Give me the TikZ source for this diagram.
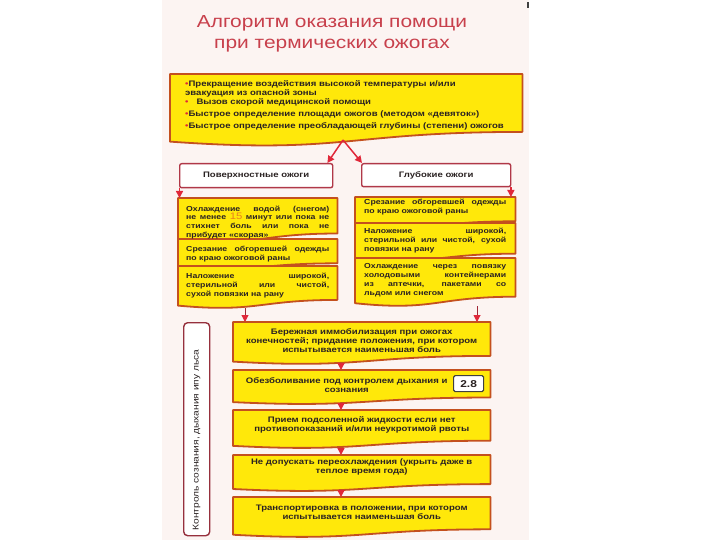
\documentclass[tikz,border=0pt]{standalone}
\usepackage{fontspec}
\setmainfont[FakeStretch=1.2]{Liberation Sans}
\usetikzlibrary{calc,arrows.meta,backgrounds}
\definecolor{panel}{HTML}{FCF4F2}
\definecolor{ybox}{HTML}{FFE80A}
\definecolor{yborder}{HTML}{C4501E}
\definecolor{rline}{HTML}{E0283A}
\definecolor{dline}{HTML}{A02838}
\definecolor{hborder}{HTML}{B03848}
\definecolor{titlec}{HTML}{C8404C}
\definecolor{txt}{HTML}{2A2222}
\definecolor{num}{HTML}{E8801E}
\tikzset{
  dframe/.style={draw=none, inner sep=0pt, anchor=north west},
  dfill/.style={fill=ybox, draw=yborder, line width=1.8bp, line join=round},
  dtext/.style={inner sep=0pt, text=txt, font=\bfseries\fontsize{8}{9}\selectfont},
  ctext/.style={align=justify, font=\bfseries\fontsize{7.3}{9}\selectfont},
  hbox/.style={draw=hborder, fill=white, line width=1.4bp, rounded corners=2bp, anchor=north west, inner sep=0pt, font=\bfseries\fontsize{8}{9}\selectfont, text=txt},
  arr/.style={draw=rline, line width=1.5bp, -{Triangle[length=7bp,width=7bp]}},
  arrd/.style={draw=dline, line width=1bp, -{Triangle[length=7bp,width=7bp,color=rline]}},
  titlestyle/.style={text=titlec, font=\fontsize{17.5}{21}\selectfont, align=center, inner sep=0pt},
}
\newcommand\docpath[1]{%
  \path[dfill] let \p1=(#1.north west), \p2=(#1.south east), \n1={\y1-\y2} in
   (\x1,\y1) -- (\x2,\y1) -- (\x2,{\y2+0.2*\n1})
   .. controls ({0.5*\x1+0.5*\x2},{\y2+0.2*\n1}) and ({0.5*\x1+0.5*\x2},{\y2-0.107*\n1}) ..
   (\x1,{\y2+0.066*\n1}) -- cycle;}
% name, x, y, w, h, text centre y, text options, text
\newcommand\dbox[8]{%
  \node[dframe, minimum width=#4bp, minimum height=#5bp] (#1) at (#2,#3) {};
  \begin{scope}[on background layer]\docpath{#1}\end{scope}
  \node[dtext, #7] (#1t) at (#1.north |- 0,#6) {#8};}
\newcommand\rb{\textcolor{rline}{•}}
\begin{document}
\hyphenpenalty=10000
\tolerance=9999
\begin{tikzpicture}[x=1bp,y=-1bp]
\useasboundingbox (0,0) rectangle (720,540);
\begin{scope}[on background layer]
  \fill[panel] (162,0) rectangle (529,540);
\end{scope}
\fill[black!75] (527,2) rectangle (529,8);

\node[titlestyle] (title) at (332,33.5) {Алгоритм оказания помощи\\при термических ожогах};

% top box
\dbox{T}{170}{74}{352}{72}{105.5}{align=left, text width=322bp}{%
\rb Прекращение воздействия высокой температуры и/или\\[-0.5bp]
эвакуация из опасной зоны\\[0.5bp]
\rb\quad Вызов скорой медицинской помощи\\[3bp]
\rb Быстрое определение площади ожогов (методом «девяток»)\\[3bp]
\rb Быстрое определение преобладающей глубины (степени) ожогов}

% headers
\node[hbox, minimum width=153bp, minimum height=24bp] (H1) at (179,163) {Поверхностные ожоги};
\node[hbox, minimum width=149bp, minimum height=23bp] (H2) at (361,163) {Глубокие ожоги};

% left column
\dbox{L1}{178}{198}{159}{44}{222.5}{ctext, text width=143bp}{%
Охлаждение водой (снегом)\linebreak не менее {\mdseries\fontsize{9.5}{9}\selectfont\textcolor{num}{15}} минут или пока не\linebreak стихнет боль или пока не\linebreak прибудет «скорая»}
\dbox{L2}{178}{239}{159}{30}{254.5}{ctext, text width=143bp}{%
Срезание обгоревшей одежды\linebreak по краю ожоговой раны}
\dbox{L3}{178}{266}{159}{42}{286}{ctext, text width=143bp}{%
Наложение широкой,\linebreak стерильной или чистой,\linebreak сухой повязки на рану}

% right column
\dbox{R1}{355}{197}{160}{30}{207.5}{ctext, text width=142bp}{%
Срезание обгоревшей одежды\linebreak по краю ожоговой раны}
\dbox{R2}{355}{223}{160}{38}{240.5}{ctext, text width=142bp}{%
Наложение широкой,\linebreak стерильной или чистой, сухой\linebreak повязки на рану}
\dbox{R3}{355}{258}{160}{48}{280}{ctext, text width=142bp}{%
Охлаждение через повязку\linebreak холодовыми контейнерами\linebreak из аптечки, пакетами со\linebreak льдом или снегом}

% bottom column
\dbox{B1}{233}{322}{257}{42}{340.5}{align=center}{%
Бережная иммобилизация при ожогах\\конечностей; придание положения, при котором\\испытывается наименьшая боль}
\dbox{B2}{233}{370}{257}{34}{385.5}{align=center, xshift=-15bp}{%
Обезболивание под контролем дыхания и\\сознания}
\dbox{B3}{233}{410}{257}{38}{424.5}{align=center}{%
Прием подсоленной жидкости если нет\\противопоказаний и/или неукротимой рвоты}
\dbox{B4}{233}{455}{257}{36}{466.5}{align=center}{%
Не допускать переохлаждения (укрыть даже в\\теплое время года)}
\dbox{B5}{233}{497}{257}{40}{512.5}{align=center}{%
Транспортировка в положении, при котором\\испытывается наименьшая боль}

\node[draw=black!75, fill=white, line width=1.2bp, rounded corners=1.5bp, anchor=north west,
      minimum width=30bp, minimum height=16bp, inner sep=0pt, text=txt,
      font=\bfseries\fontsize{10}{10}\selectfont] (n28) at (453,375) {2.8};

% side box
\node[draw=hborder!85!black, fill=white, line width=1.4bp, rounded corners=4bp, anchor=north west,
      minimum width=26bp, minimum height=213bp, inner sep=0pt] (S) at (183,322) {};
\node[rotate=90, inner sep=0pt, text=txt, font=\fontsize{8.5}{9}\selectfont] (St) at (196.5,440) {Контроль сознания, дыхания ипу льса};

% connectors
\coordinate (ap) at (343,140);
\draw[arr] (ap) -- ([xshift=-6bp]H1.north east);
\draw[arr] (ap) -- ([xshift=1bp]H2.north west);
\draw[arr] ([xshift=0.5bp]H1.south west) -- ([xshift=0.5bp]H1.south west |- L1.north);
\draw[arr] ([xshift=-0.5bp]H2.south east) -- ([xshift=-0.5bp]H2.south east |- R1.north);

\coordinate (axL) at (245,0);
\coordinate (axR) at (477,0);
\coordinate (ax) at (341,0);
\draw[arrd] (L3.south -| axL) -- (B1.north -| axL);
\draw[arrd] (R3.south -| axR) -- (B1.north -| axR);
\draw[arr] (B1.south -| ax) -- (B2.north -| ax);
\draw[arr] (B2.south -| ax) -- (B3.north -| ax);
\draw[arr] (B3.south -| ax) -- (B4.north -| ax);
\draw[arr] (B4.south -| ax) -- (B5.north -| ax);
\end{tikzpicture}
\end{document}
